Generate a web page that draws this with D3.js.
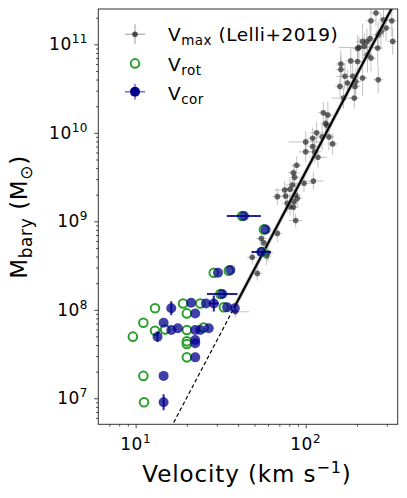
<!DOCTYPE html>
<html>
<head>
<meta charset="utf-8">
<script src="https://cdn.jsdelivr.net/npm/d3@7"></script>
<style>
    body { margin: 0; background: #fff; }
    text { font-family: "DejaVu Sans", sans-serif; fill: #000; }
</style>
</head>
<body>
<svg id="chart" width="407" height="498"></svg>
<script>
//---------------------------------//
// Data                            //
//---------------------------------//

// Vmax sample (Lelli+2019): velocity [km/s], baryonic mass [Msun], errors in dex
var lelliV = [259, 242, 287, 321, 297, 277, 267, 239, 325, 216, 221, 206, 265, 231, 242, 202, 184, 161, 161, 170,
              189, 216, 197, 159, 176, 195, 267, 167, 193, 127, 135, 133, 116, 110, 100, 137, 144, 100, 113, 110,
              118, 88.5, 84.6, 86.1, 83.5, 97.7, 111, 75.2, 80.8, 68.1, 76.2, 87.3, 89.3, 85.3, 80.8, 84.6, 87.3, 68.1, 54.8, 56.8,
              48.5, 60.0, 58.9, 51.9, 38.6, 125, 131, 78, 229, 202];
var lelliM = [2.26e11, 1.85e11, 1.90e11, 1.85e11, 1.53e11, 1.40e11, 1.28e11, 1.16e11, 1.08e11, 1.08e11,
              9.5e10, 9.2e10, 9.1e10, 7.6e10, 7.0e10, 6.4e10, 6.5e10, 6.0e10, 5.2e10, 4.35e10,
              4.35e10, 4.16e10, 3.8e10, 3.35e10, 3.65e10, 3.35e10, 3.98e10, 2.47e10, 2.47e10, 1.69e10,
              1.59e10, 1.22e10, 1.0e10, 8.7e9, 7.9e9, 9.0e9, 7.5e9, 6.1e9, 6.1e9, 7.0e9,
              5.3e9, 4.3e9, 3.54e9, 3.14e9, 2.57e9, 2.69e9, 2.85e9, 2.26e9, 2.30e9, 1.90e9,
              1.93e9, 1.98e9, 1.82e9, 1.66e9, 1.46e9, 1.44e9, 1.02e9, 7.3e8, 6.4e8, 5.7e8,
              3.92e8, 4.4e8, 4.05e8, 2.58e8, 9.5e7, 9.0e9, 1.28e10, 1.6e9, 1.07e11, 9.0e10];
var lelliVErr = [0.03, 0.03, 0.03, 0.04, 0.03, 0.03, 0.03, 0.03, 0.03, 0.04, 0.03, 0.12, 0.03, 0.03, 0.03, 0.03, 0.03, 0.03, 0.03, 0.05,
                 0.03, 0.03, 0.03, 0.03, 0.03, 0.03, 0.03, 0.07, 0.03, 0.03, 0.03, 0.03, 0.04, 0.03, 0.10, 0.03, 0.03, 0.04, 0.04, 0.03,
                 0.05, 0.03, 0.03, 0.03, 0.04, 0.06, 0.06, 0.06, 0.03, 0.03, 0.04, 0.03, 0.03, 0.03, 0.03, 0.03, 0.04, 0.03, 0.03, 0.03,
                 0.03, 0.03, 0.03, 0.03, 0.08, 0.03, 0.03, 0.03, 0.03, 0.03];
var lelliMErr = [0.15, 0.20, 0.20, 0.18, 0.15, 0.20, 0.15, 0.20, 0.15, 0.20, 0.15, 0.12, 0.20, 0.20, 0.15, 0.20, 0.15, 0.15, 0.15, 0.15,
                 0.15, 0.20, 0.15, 0.12, 0.15, 0.15, 0.15, 0.12, 0.12, 0.12, 0.15, 0.12, 0.12, 0.12, 0.12, 0.15, 0.12, 0.12, 0.12, 0.12,
                 0.12, 0.10, 0.10, 0.10, 0.12, 0.10, 0.10, 0.10, 0.12, 0.10, 0.10, 0.12, 0.10, 0.10, 0.10, 0.12, 0.08, 0.10, 0.10, 0.10,
                 0.08, 0.10, 0.10, 0.08, 0.06, 0.15, 0.12, 0.10, 0.15, 0.15];

// Vrot (open green circles)
var rotV = [9.63, 11.1, 13.0, 13.0, 14.9, 19.0, 20.0, 20.0, 20.0, 20.0, 20.0, 24.0, 25.1, 28.8, 35.3, 31.5, 33.0, 42.3, 56.8, 55.5, 11.1, 11.2];
var rotM = [4.97e7, 7.15e7, 1.04e8, 5.8e7, 6.0e7, 1.18e8, 9.1e7, 5.9e7, 4.4e7, 4.1e7, 2.9e7, 1.18e8, 6.3e7, 2.62e8, 2.77e8, 1.51e8, 1.07e8, 1.15e9, 8.1e8, 4.5e8, 1.79e7, 9.0e6];

// Vcor (filled navy circles), errors in dex
var corV = [13.45, 14.6, 16.2, 16.2, 17.7, 21.2, 22.4, 22.4, 22.4, 22.4, 22.4, 24.0, 26.9, 25.9, 28.8, 30.5, 36.1, 32.3, 34.5, 38.3, 43.3, 58.1, 54.8, 14.6, 14.6];
var corM = [4.97e7, 7.15e7, 1.04e8, 5.9e7, 6.2e7, 1.2e8, 9.1e7, 5.9e7, 4.56e7, 4.18e7, 2.9e7, 5.9e7, 6.2e7, 1.18e8, 1.18e8, 2.62e8, 2.82e8, 1.51e8, 1.07e8, 1.04e8, 1.15e9, 8.1e8, 4.5e8, 1.79e7, 9.0e6];
var corVErr = [0, 0, 0, 0, 0, 0, 0, 0, 0, 0, 0, 0, 0, 0, 0.03, 0, 0, 0.09, 0, 0, 0.10, 0, 0.057, 0, 0];
var corMErr = [0.06, 0, 0.08, 0, 0, 0, 0, 0, 0, 0, 0, 0, 0, 0, 0.09, 0, 0, 0, 0, 0, 0, 0, 0, 0, 0.09];

// Fitted relation: log M = fitIntercept + fitSlope * log V (dashed below fitVBreak)
var fitSlope = 3.65;
var fitIntercept = 2.26;
var fitVBreak = 37.8;
var fitBand = 0.05;             // half width of shaded band, dex

var xMajor = [10, 100];
var xMinor = [7, 8, 9, 20, 30, 40, 50, 60, 70, 80, 90, 200, 300];
var yMajor = [1e7, 1e8, 1e9, 1e10, 1e11];
var yMinor = [6e6, 7e6, 8e6, 9e6, 2e7, 3e7, 4e7, 5e7, 6e7, 7e7, 8e7, 9e7, 2e8, 3e8, 4e8, 5e8, 6e8, 7e8, 8e8, 9e8,
              2e9, 3e9, 4e9, 5e9, 6e9, 7e9, 8e9, 9e9, 2e10, 3e10, 4e10, 5e10, 6e10, 7e10, 8e10, 9e10, 2e11];

//---------------------------------//
// Chart                           //
//---------------------------------//

var Chart = {};

Chart.init = function() {
    Chart.left = 98.3;  Chart.right = 397.7;        //Plot frame
    Chart.top = 9;      Chart.bottom = 424.3;

    Chart.svg = d3.select('#chart');

    Chart.x = d3.scaleLog().domain([6.03, 347.6]).range([Chart.left, Chart.right]);
    Chart.y = d3.scaleLog().domain([5.08e6, 2.51e11]).range([Chart.bottom, Chart.top]);

    Chart.svg.append('clipPath').attr('id', 'clip')
        .append('rect')
        .attr('x', Chart.left).attr('y', Chart.top)
        .attr('width', Chart.right - Chart.left).attr('height', Chart.bottom - Chart.top);

    Chart.plot = Chart.svg.append('g').attr('clip-path', 'url(#clip)');

    Chart.drawLelli();
    Chart.drawFit();
    Chart.drawRot();
    Chart.drawCor();
    Chart.drawAxes();
    Chart.drawLegend();
};

Chart.drawLelli = function() {
    var x = Chart.x, y = Chart.y;
    var g = Chart.plot.append('g');
    lelliV.forEach(function(v, i) {
        var m = lelliM[i];
        g.append('line')                                            //x error
            .attr('x1', x(v / Math.pow(10, lelliVErr[i]))).attr('x2', x(v * Math.pow(10, lelliVErr[i])))
            .attr('y1', y(m)).attr('y2', y(m))
            .attr('stroke', '#9a9a9a').attr('stroke-opacity', 0.6).attr('stroke-width', 1);
        g.append('line')                                            //y error
            .attr('x1', x(v)).attr('x2', x(v))
            .attr('y1', y(m / Math.pow(10, lelliMErr[i]))).attr('y2', y(m * Math.pow(10, lelliMErr[i])))
            .attr('stroke', '#9a9a9a').attr('stroke-opacity', 0.6).attr('stroke-width', 1);
    });
    g.selectAll('circle.lelli').data(lelliV).enter().append('circle')
        .attr('cx', function(d) { return x(d); })
        .attr('cy', function(d, i) { return y(lelliM[i]); })
        .attr('r', 2.8)
        .attr('fill', '#2a2a2a').attr('fill-opacity', 0.7);
};

Chart.drawFit = function() {
    var x = Chart.x, y = Chart.y;
    var fitM = function(v) { return Math.pow(10, fitIntercept + fitSlope * Math.log10(v)); };

    var band = d3.area()
        .x(function(v) { return x(v); })
        .y0(function(v) { return y(fitM(v) / Math.pow(10, fitBand)); })
        .y1(function(v) { return y(fitM(v) * Math.pow(10, fitBand)); });
    var line = d3.line()
        .x(function(v) { return x(v); })
        .y(function(v) { return y(fitM(v)); });

    Chart.plot.append('path').attr('d', band([fitVBreak, 400]))
        .attr('fill', '#999').attr('fill-opacity', 0.45);
    Chart.plot.append('path').attr('d', line([fitVBreak, 400]))
        .attr('stroke', '#000').attr('stroke-width', 2.2).attr('fill', 'none');
    Chart.plot.append('path').attr('d', line([8, fitVBreak]))
        .attr('stroke', '#000').attr('stroke-width', 1.2).attr('stroke-dasharray', '4,2.5').attr('fill', 'none');
};

Chart.drawRot = function() {
    var x = Chart.x, y = Chart.y;
    Chart.plot.append('g').selectAll('circle').data(rotV).enter().append('circle')
        .attr('cx', function(d) { return x(d); })
        .attr('cy', function(d, i) { return y(rotM[i]); })
        .attr('r', 4.3)
        .attr('fill', 'none').attr('stroke', '#2ca02c').attr('stroke-width', 2);
};

Chart.drawCor = function() {
    var x = Chart.x, y = Chart.y;
    var g = Chart.plot.append('g');
    corV.forEach(function(v, i) {
        var m = corM[i];
        if (corVErr[i] > 0) {
            g.append('line')
                .attr('x1', x(v / Math.pow(10, corVErr[i]))).attr('x2', x(v * Math.pow(10, corVErr[i])))
                .attr('y1', y(m)).attr('y2', y(m))
                .attr('stroke', '#00008b').attr('stroke-opacity', 0.85).attr('stroke-width', 2);
        }
        if (corMErr[i] > 0) {
            g.append('line')
                .attr('x1', x(v)).attr('x2', x(v))
                .attr('y1', y(m / Math.pow(10, corMErr[i]))).attr('y2', y(m * Math.pow(10, corMErr[i])))
                .attr('stroke', '#00008b').attr('stroke-opacity', 0.85).attr('stroke-width', 2);
        }
    });
    g.selectAll('circle').data(corV).enter().append('circle')
        .attr('cx', function(d) { return x(d); })
        .attr('cy', function(d, i) { return y(corM[i]); })
        .attr('r', 5)
        .attr('fill', '#00008b').attr('fill-opacity', 0.75);
};

Chart.powerLabel = function(sel, v) {                     //"10" with superscript exponent
    var e = Math.round(Math.log10(v));
    sel.append('tspan').text('10');
    sel.append('tspan').attr('dy', -7).attr('font-size', '12px').text(e);
};

Chart.drawAxes = function() {
    var x = Chart.x, y = Chart.y, svg = Chart.svg;

    var axes = [
        svg.append('g').attr('transform', 'translate(0,' + Chart.bottom + ')')
            .call(d3.axisBottom(x).tickValues(xMajor).tickSize(4).tickFormat('')),
        svg.append('g').attr('transform', 'translate(0,' + Chart.bottom + ')')
            .call(d3.axisBottom(x).tickValues(xMinor).tickSize(2.2).tickFormat('')),
        svg.append('g').attr('transform', 'translate(' + Chart.left + ',0)')
            .call(d3.axisLeft(y).tickValues(yMajor).tickSize(4).tickFormat('')),
        svg.append('g').attr('transform', 'translate(' + Chart.left + ',0)')
            .call(d3.axisLeft(y).tickValues(yMinor).tickSize(2.2).tickFormat(''))
    ];
    axes.forEach(function(a) {
        a.select('.domain').remove();
        a.selectAll('line').attr('stroke', '#333').attr('stroke-width', 0.9);
    });

    svg.append('rect')                                      //Frame
        .attr('x', Chart.left).attr('y', Chart.top)
        .attr('width', Chart.right - Chart.left).attr('height', Chart.bottom - Chart.top)
        .attr('fill', 'none').attr('stroke', '#333').attr('stroke-width', 1);

    xMajor.forEach(function(v) {
        var t = svg.append('text').attr('x', x(v)).attr('y', 449.7)
            .attr('text-anchor', 'middle').attr('font-size', '17px').attr('letter-spacing', '0.5px');
        Chart.powerLabel(t, v);
    });
    yMajor.forEach(function(v) {
        var t = svg.append('text').attr('x', 88).attr('y', y(v) + 6)
            .attr('text-anchor', 'end').attr('font-size', '17px').attr('letter-spacing', '0.5px');
        Chart.powerLabel(t, v);
    });

    var xl = svg.append('text').attr('x', 247).attr('y', 482)
        .attr('text-anchor', 'middle').attr('font-size', '23px').attr('letter-spacing', '0.9px');
    xl.append('tspan').text('Velocity (km s');
    xl.append('tspan').attr('dy', -9).attr('font-size', '16px').text('\u22121');
    xl.append('tspan').attr('dy', 9).text(')');

    var yl = svg.append('text').attr('transform', 'translate(26.5,217) rotate(-90)')
        .attr('text-anchor', 'middle').attr('font-size', '23px').attr('letter-spacing', '0.6px');
    yl.append('tspan').text('M');
    yl.append('tspan').attr('dy', 5).attr('font-size', '17px').text('bary');
    yl.append('tspan').attr('dy', -5).text(' (M');
    yl.append('tspan').attr('dy', 5).attr('font-size', '17px').text('\u2299');
    yl.append('tspan').attr('dy', -5).text(')');
};

Chart.drawLegend = function() {
    var svg = Chart.svg;
    var hx = 135, tx = 168;
    var rows = [
        { base: 40.7, main: 'V', sub: 'max', rest: ' (Lelli+2019)' },
        { base: 70.7, main: 'V', sub: 'rot', rest: '' },
        { base: 99.5, main: 'V', sub: 'cor', rest: '' }
    ];

    // handles
    var cy0 = rows[0].base - 6.5, cy1 = rows[1].base - 7.3, cy2 = rows[2].base - 7.8;
    svg.append('line').attr('x1', hx - 10).attr('x2', hx + 10).attr('y1', cy0).attr('y2', cy0)
        .attr('stroke', '#9a9a9a').attr('stroke-width', 1);
    svg.append('line').attr('x1', hx).attr('x2', hx).attr('y1', cy0 - 10).attr('y2', cy0 + 10)
        .attr('stroke', '#9a9a9a').attr('stroke-width', 1);
    svg.append('circle').attr('cx', hx).attr('cy', cy0).attr('r', 2.8).attr('fill', '#2a2a2a').attr('fill-opacity', 0.8);

    svg.append('circle').attr('cx', hx).attr('cy', cy1).attr('r', 4.3)
        .attr('fill', 'none').attr('stroke', '#2ca02c').attr('stroke-width', 2);

    svg.append('line').attr('x1', hx - 10).attr('x2', hx + 10).attr('y1', cy2).attr('y2', cy2)
        .attr('stroke', '#7070c0').attr('stroke-width', 1.5);
    svg.append('line').attr('x1', hx).attr('x2', hx).attr('y1', cy2 - 8).attr('y2', cy2 + 8)
        .attr('stroke', '#7070c0').attr('stroke-width', 1.5);
    svg.append('circle').attr('cx', hx).attr('cy', cy2).attr('r', 5).attr('fill', '#00008b');

    rows.forEach(function(r) {
        var t = svg.append('text').attr('x', tx).attr('y', r.base).attr('font-size', '18.5px').attr('letter-spacing', '0.5px');
        t.append('tspan').text(r.main);
        t.append('tspan').attr('dy', 4).attr('font-size', '13.5px').text(r.sub);
        if (r.rest) t.append('tspan').attr('dy', -4).text(r.rest);
    });
};

document.addEventListener('DOMContentLoaded', Chart.init);
</script>
</body>
</html>
